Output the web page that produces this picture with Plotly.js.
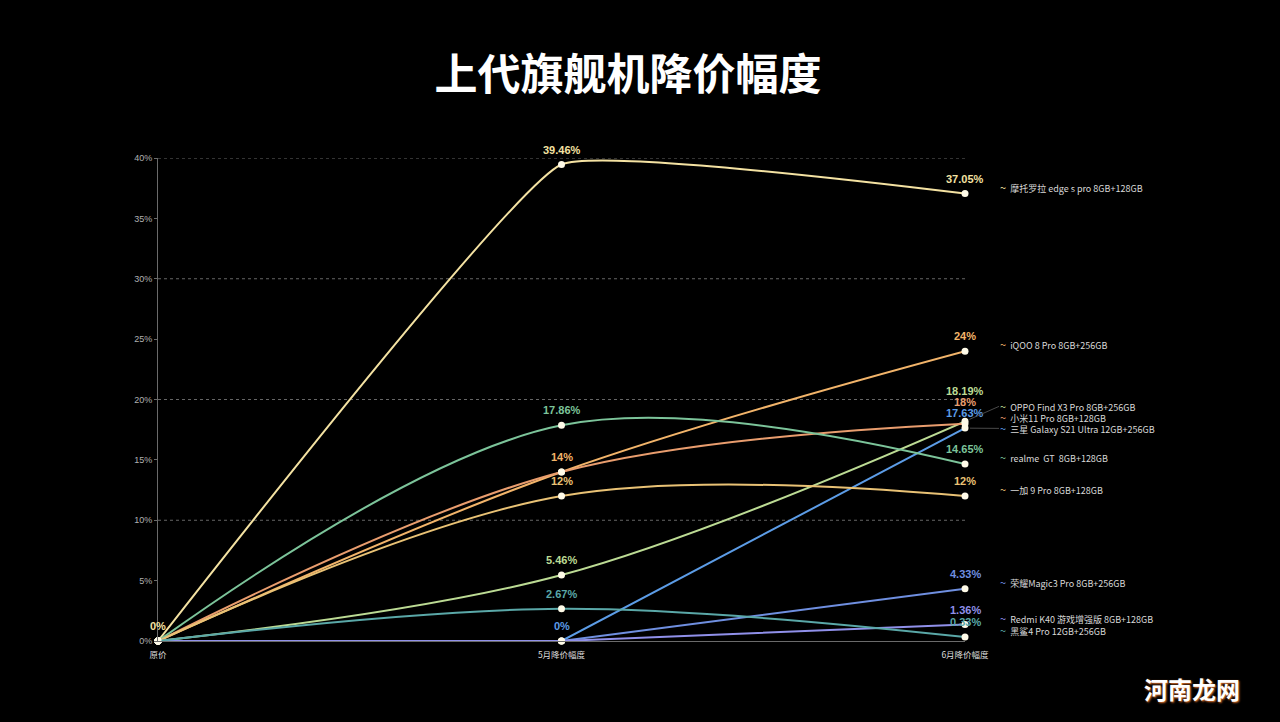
<!DOCTYPE html>
<html><head><meta charset="utf-8">
<script src="https://cdn.plot.ly/plotly-3.0.1.min.js"></script>
<style>html,body{margin:0;padding:0;background:#000;}#chart{width:1280px;height:722px;}</style>
</head><body><div id="chart"></div>
<script>
const categories = ['原价', '5月降价幅度', '6月降价幅度'];
const seriesNames = [
  '摩托罗拉 edge s pro 8GB+128GB',
  'iQOO 8 Pro 8GB+256GB',
  'OPPO Find X3 Pro 8GB+256GB',
  '小米11 Pro 8GB+128GB',
  '三星 Galaxy S21 Ultra 12GB+256GB',
  'realme  GT  8GB+128GB',
  '一加 9 Pro 8GB+128GB',
  '荣耀Magic3 Pro 8GB+256GB',
  'Redmi K40 游戏增强版 8GB+128GB',
  '黑鲨4 Pro 12GB+256GB'
];
const motorola = [0, 39.46, 37.05];
const iqoo     = [0, 14, 24];
const oppo     = [0, 5.46, 18.19];
const xiaomi   = [0, 14, 18];
const samsung  = [0, 0, 17.63];
const realme   = [0, 17.86, 14.65];
const oneplus  = [0, 12, 12];
const honor    = [0, 0, 4.33];
const redmi    = [0, 0, 1.36];
const blackshark = [0, 2.67, 0.33];
const seriesValues = [motorola, iqoo, oppo, xiaomi, samsung, realme, oneplus, honor, redmi, blackshark];
const colors = ['#f4e2a2', '#f2b46a', '#bcdb94', '#e99d6e', '#5c9ce6', '#7cc49a', '#e9c275', '#6f8fe0', '#9090ea', '#5aa8a8'];
const smoothness = [0.3, 1, 1, 1, 1, 1, 1, 1, 1, 1];
const yTickVals = [0, 5, 10, 15, 20, 25, 30, 35, 40];
const gridVals = [10, 20, 30, 40];

const W = 1280, H = 722;
const M = {l: 158, r: 315, t: 158, b: 81};
const plotW = W - M.l - M.r;
const plotH = H - M.t - M.b;
const PX = plotH / 40;

const traces = seriesValues.map((vals, i) => {
  const flatStart = vals[0] === vals[1];
  return {
    type: 'scatter', mode: 'lines+markers', name: seriesNames[i],
    x: categories, y: vals,
    line: {color: colors[i], width: 2, shape: flatStart ? 'linear' : 'spline', smoothing: smoothness[i]},
    marker: {color: '#fffbe8', size: 7},
    hoverinfo: 'skip', showlegend: false, cliponaxis: false
  };
});

// data labels: one label per distinct value per category, pushed upward when overlapping
const annotations = [];
categories.forEach((cat, ci) => {
  const seen = new Set();
  const items = [];
  seriesValues.forEach((vals, si) => {
    const v = vals[ci];
    if (seen.has(v)) return;
    seen.add(v);
    items.push({v, si});
  });
  items.sort((a, b) => a.v - b.v);
  let last = -Infinity;
  items.forEach(o => {
    let p = o.v * PX + 15;
    if (p < last + 11) p = last + 11;
    last = p;
    annotations.push({
      x: cat, y: o.v, xref: 'x', yref: 'y', showarrow: false,
      yshift: p - o.v * PX, text: o.v + '%', borderpad: 0,
      font: {family: 'Liberation Sans, Arial', size: 11, color: colors[o.si], weight: 'bold'},
      xanchor: 'center', yanchor: 'middle'
    });
  });
});

// end labels (legend-like): overlapping ones are spread symmetrically around their mean
function spread(items, gap) {
  let blocks = items.map(o => ({members: [o], center: o.p}));
  let changed = true;
  while (changed) {
    changed = false;
    for (let i = 0; i < blocks.length - 1; i++) {
      const a = blocks[i], b = blocks[i + 1];
      const aTop = a.center + (a.members.length - 1) * gap / 2;
      const bBot = b.center - (b.members.length - 1) * gap / 2;
      if (bBot - aTop < gap) {
        const members = a.members.concat(b.members);
        const center = members.reduce((s, m) => s + m.p, 0) / members.length;
        blocks.splice(i, 2, {members, center});
        changed = true;
        break;
      }
    }
  }
  blocks.forEach(b => b.members.forEach((m, k) => { m.q = b.center + (k - (b.members.length - 1) / 2) * gap; }));
}
const endIdx = categories.length - 1;
const endBase = 7;
const ends = seriesValues.map((vals, si) => ({v: vals[endIdx], si, p: vals[endIdx] * PX + endBase}))
  .sort((a, b) => a.p - b.p);
spread(ends, 11);
ends.forEach(o => {
  const shift = o.q - o.v * PX;
  const moved = Math.abs(o.q - o.p) > 3;
  annotations.push({
    x: categories[endIdx], y: o.v, xref: 'x', yref: 'y',
    showarrow: true, arrowhead: 0, arrowwidth: 1,
    arrowcolor: moved ? '#4a4a4a' : 'rgba(0,0,0,0)',
    ax: 34, ay: -shift, axref: 'pixel', ayref: 'pixel', standoff: 5,
    xanchor: 'left', yanchor: 'middle', borderpad: 0,
    text: '<span style="color:' + colors[o.si] + ';font-size:11px">~</span>  ' + seriesNames[o.si],
    font: {family: 'Noto Sans CJK SC, Noto Sans', size: 9, color: '#d8d8d8'}
  });
});

annotations.push({
  xref: 'paper', yref: 'paper', x: (1242 - M.l) / plotW, y: -(688 - (H - M.b)) / plotH,
  xanchor: 'right', yanchor: 'middle',
  showarrow: false, text: '河南龙网',
  font: {family: 'Noto Sans CJK SC', size: 24, color: '#ffffff', weight: 'bold', shadow: '1px 1px 2px #e0702a'}
});

const shapes = gridVals.map(v => ({
  type: 'line', xref: 'paper', x0: 0, x1: 1, yref: 'y', y0: v, y1: v,
  line: {color: '#666666', width: 1, dash: 'dot'}, layer: 'below'
}));

const layout = {
  width: W, height: H,
  paper_bgcolor: '#000', plot_bgcolor: '#000',
  margin: M,
  title: {
    text: '上代旗舰机降价幅度', x: 628 / W, xref: 'container', y: 1 - 75 / H, yref: 'container',
    xanchor: 'center', yanchor: 'middle',
    font: {family: 'Noto Sans CJK SC', size: 43, color: '#ffffff', weight: 'bold'}
  },
  xaxis: {
    type: 'category', range: [0, 2], showgrid: false, zeroline: false,
    showline: true, linecolor: '#6a6a6a', linewidth: 1,
    ticks: '', ticklabelstandoff: 6,
    tickfont: {family: 'Noto Sans CJK SC', size: 8.5, color: '#dddddd'},
    fixedrange: true
  },
  yaxis: {
    range: [0, 40], tickvals: yTickVals, ticktext: yTickVals.map(v => v + '%'),
    showgrid: false, zeroline: false, showline: true, linecolor: '#6a6a6a', linewidth: 1,
    ticks: 'outside', ticklen: 3, tickcolor: '#6a6a6a',
    tickfont: {family: 'Liberation Sans, Arial', size: 9, color: '#b0b0b0'},
    fixedrange: true
  },
  shapes: shapes,
  annotations: annotations,
  showlegend: false
};

Plotly.newPlot('chart', traces, layout, {displayModeBar: false, staticPlot: true});
</script>
</body></html>
